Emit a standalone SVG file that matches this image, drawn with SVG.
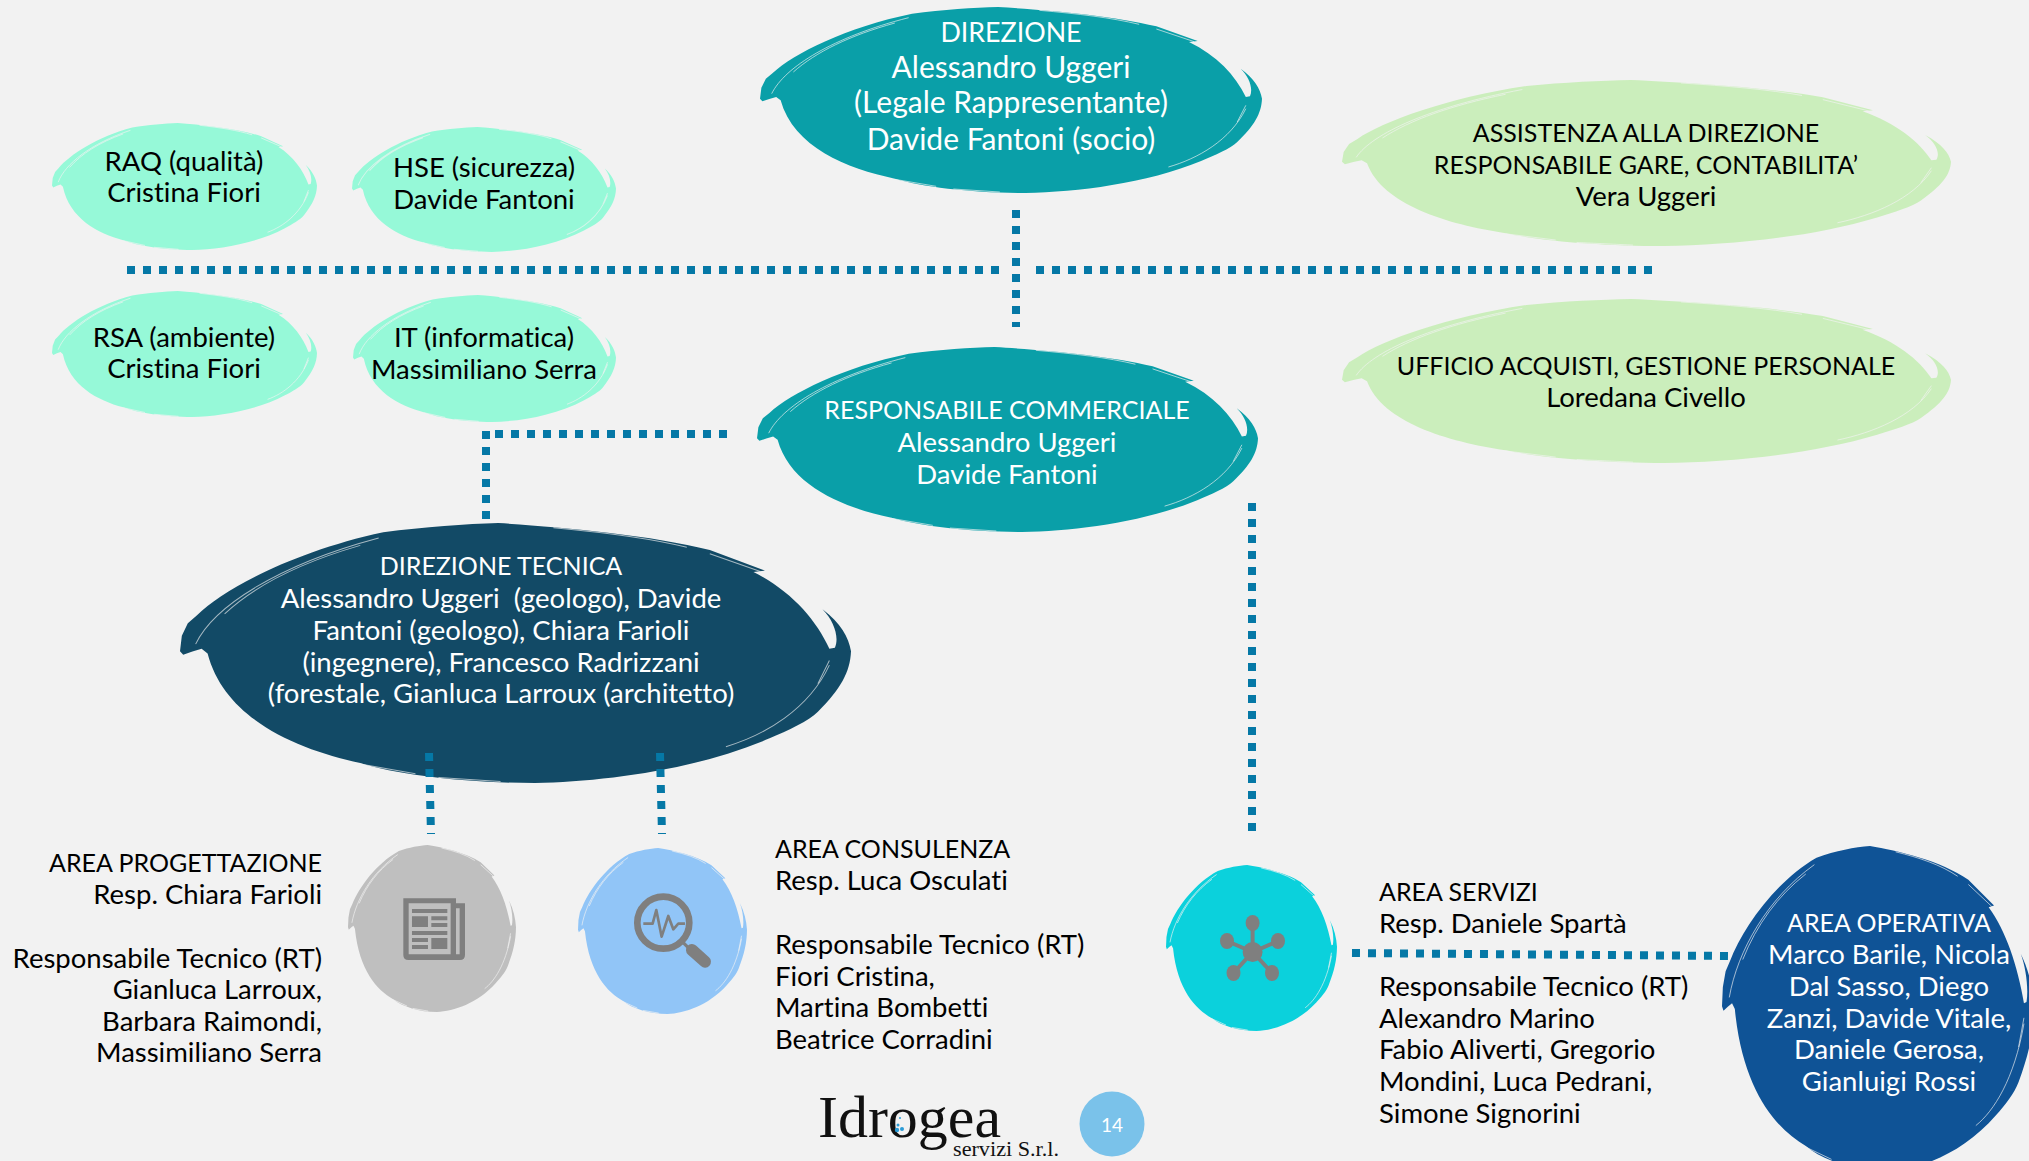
<svg xmlns="http://www.w3.org/2000/svg" width="2029" height="1161" viewBox="0 0 2029 1161">
<style>
text{font-family:"Lato","Carlito","Liberation Sans",sans-serif;font-size:27.5px;fill:#000;font-variant-ligatures:none}
.m{text-anchor:middle}.e{text-anchor:end}.w{fill:#fff}.big{font-size:30px}.c{font-size:25px}.cb{font-size:26.8px}
.dot{fill:none;stroke:#0578a6;stroke-width:8;stroke-dasharray:8 8}
.ic{fill:#7f7f7f}
text.logo{font-family:"Liberation Serif",serif;fill:#111}
</style>
<defs>
<symbol id="brush" viewBox="28 20 1459 558" preserveAspectRatio="none">
<path fill="currentColor" d="M28 295L32 262L45 235L65 218C125 160 280 80 470 40C560 28 650 22 720 20C850 28 1050 45 1180 78L1300 122L1275 125C1355 165 1410 225 1440 290L1452 288C1462 265 1450 230 1425 205C1465 235 1482 265 1487 295C1485 340 1465 375 1415 425C1395 445 1350 465 1310 482C1150 550 950 575 800 578C650 578 500 560 420 535C280 505 125 440 88 300L75 290L55 296L35 303Z"/>
<path fill="none" stroke="#f2f2f2" stroke-width="1" stroke-opacity=".65" vector-effect="non-scaling-stroke" d="M62 280C100 200 240 110 460 52M125 215C190 155 290 105 420 68M840 30C950 40 1050 52 1130 72M1215 500C1300 475 1395 420 1440 325M1180 86L1290 124M420 537L540 558M590 566L725 575M1415 365L1440 315"/>
</symbol>
</defs>
<rect width="2029" height="1161" fill="#f2f2f2"/>

<g id="direzione"><use href="#brush" x="760" y="7" width="502" height="186" color="#0a9fa8"/>
<text class="m w big"><tspan class="cb" x="1011" y="42">DIREZIONE</tspan><tspan x="1011" y="78">Alessandro Uggeri</tspan><tspan x="1011" y="113">(Legale Rappresentante)</tspan><tspan x="1011" y="150">Davide Fantoni (socio)</tspan></text></g>

<g id="raq"><use href="#brush" x="52" y="123" width="265" height="127" color="#96f9d8"/>
<text class="m"><tspan x="184" y="171">RAQ (qualità)</tspan><tspan x="184" y="202">Cristina Fiori</tspan></text></g>
<g id="hse"><use href="#brush" x="352" y="127" width="264" height="125" color="#96f9d8"/>
<text class="m"><tspan x="484" y="177">HSE (sicurezza)</tspan><tspan x="484" y="209">Davide Fantoni</tspan></text></g>
<g id="rsa"><use href="#brush" x="52" y="291" width="265" height="126" color="#96f9d8"/>
<text class="m"><tspan x="184" y="347">RSA (ambiente)</tspan><tspan x="184" y="378">Cristina Fiori</tspan></text></g>
<g id="it"><use href="#brush" x="353" y="295" width="263" height="127" color="#96f9d8"/>
<text class="m"><tspan x="484" y="347">IT (informatica)</tspan><tspan x="484" y="379">Massimiliano Serra</tspan></text></g>

<g id="assistenza"><use href="#brush" x="1342" y="80" width="609" height="166" color="#cbeebc"/>
<text class="m"><tspan class="c" x="1646" y="142">ASSISTENZA ALLA DIREZIONE</tspan><tspan class="c" x="1646" y="174">RESPONSABILE GARE, CONTABILITA’</tspan><tspan x="1646" y="206">Vera Uggeri</tspan></text></g>
<g id="ufficio"><use href="#brush" x="1342" y="299" width="609" height="164" color="#cbeebc"/>
<text class="m"><tspan class="c" x="1646" y="375">UFFICIO ACQUISTI, GESTIONE PERSONALE</tspan><tspan x="1646" y="407">Loredana Civello</tspan></text></g>

<g id="commerciale"><use href="#brush" x="757" y="347" width="501" height="185" color="#0a9fa8"/>
<text class="m w"><tspan class="c" x="1007" y="419">RESPONSABILE COMMERCIALE</tspan><tspan x="1007" y="452">Alessandro Uggeri</tspan><tspan x="1007" y="484">Davide Fantoni</tspan></text></g>

<g id="tecnica"><use href="#brush" x="180" y="523" width="671" height="260" color="#124a66"/>
<text class="m w"><tspan class="c" x="501" y="575">DIREZIONE TECNICA</tspan><tspan x="501" y="608">Alessandro Uggeri&#160; (geologo), Davide</tspan><tspan x="501" y="640">Fantoni (geologo), Chiara Farioli</tspan><tspan x="501" y="672">(ingegnere), Francesco Radrizzani</tspan><tspan x="501" y="703">(forestale, Gianluca Larroux (architetto)</tspan></text></g>

<g id="connectors">
<path class="dot" d="M127 270H999"/>
<path class="dot" d="M1036 270H1652"/>
<path class="dot" d="M1016 210V327"/>
<path class="dot" d="M495 434H727"/>
<path class="dot" d="M486 431V519"/>
<path class="dot" d="M429 753L431 834"/>
<path class="dot" d="M660 753L662 834"/>
<path class="dot" d="M1252 503V831"/>
<path class="dot" d="M1352 953L1730 956"/>
</g>

<g id="area-progettazione"><use href="#brush" x="348" y="845" width="168" height="167" color="#bfbfbf"/>
<g transform="translate(330 820) scale(.3333)">
<path class="ic" fill-rule="evenodd" d="M220 235H378V250H405V405Q405 420 390 420H235Q220 420 220 405ZM236 250V403H362V250ZM378 265V403H389V265Z"/>
<path class="ic" d="M246 267h106v12H246zM246 289h48v32h-48zM304 289h48v12h-48zM304 309h48v12h-48zM246 333h106v12H246zM246 354h48v12h-48zM246 375h48v12h-48zM304 354h48v33h-48z"/>
</g>
<text class="e"><tspan class="c" x="322" y="872">AREA PROGETTAZIONE</tspan><tspan x="322" y="904">Resp. Chiara Farioli</tspan><tspan x="322" y="968">Responsabile Tecnico (RT)</tspan><tspan x="322" y="999">Gianluca Larroux,</tspan><tspan x="322" y="1031">Barbara Raimondi,</tspan><tspan x="322" y="1062">Massimiliano Serra</tspan></text></g>

<g id="area-consulenza"><use href="#brush" x="578" y="848" width="169" height="166" color="#91c5f7"/>
<g transform="translate(330 820) scale(.3333)">
<circle cx="1000" cy="308" r="78" fill="none" stroke="#7f7f7f" stroke-width="20"/>
<path fill="none" stroke="#7f7f7f" stroke-width="10" d="M1056 364L1080 388"/>
<path fill="none" stroke="#7f7f7f" stroke-width="36" stroke-linecap="round" d="M1086 390L1125 425"/>
<path fill="none" stroke="#7f7f7f" stroke-width="8" stroke-linejoin="round" d="M940 311H968L979 270L995 350L1015 288L1030 328L1045 311H1065"/>
</g>
<text><tspan class="c" x="775" y="858">AREA CONSULENZA</tspan><tspan x="775" y="890">Resp. Luca Osculati</tspan><tspan x="775" y="954">Responsabile Tecnico (RT)</tspan><tspan x="775" y="986">Fiori Cristina,</tspan><tspan x="775" y="1017">Martina Bombetti</tspan><tspan x="775" y="1049">Beatrice Corradini</tspan></text></g>

<g id="area-servizi"><use href="#brush" x="1166" y="865" width="171" height="166" color="#0bd1dc"/>
<g class="ic"><path fill="none" stroke="#7f7f7f" stroke-width="4" d="M1252.600 923V952M1278 941L1252.600 952L1227 941M1233.500 973L1252.600 952L1272 973"/>
<circle cx="1252.600" cy="952" r="10"/><ellipse cx="1252.600" cy="923" rx="7" ry="8"/><ellipse cx="1278" cy="941" rx="7" ry="8"/><ellipse cx="1227" cy="941" rx="7" ry="8"/><ellipse cx="1233.500" cy="973" rx="7" ry="8"/><ellipse cx="1272" cy="973" rx="7" ry="8"/></g>
<text><tspan class="c" x="1379" y="901">AREA SERVIZI</tspan><tspan x="1379" y="933">Resp. Daniele Spartà</tspan><tspan x="1379" y="996">Responsabile Tecnico (RT)</tspan><tspan x="1379" y="1028">Alexandro Marino</tspan><tspan x="1379" y="1059">Fabio Aliverti, Gregorio</tspan><tspan x="1379" y="1091">Mondini, Luca Pedrani,</tspan><tspan x="1379" y="1123">Simone Signorini</tspan></text></g>

<g id="area-operativa"><use href="#brush" x="1722" y="846" width="312" height="325" color="#0f5396"/>
<text class="m w"><tspan class="c" x="1889" y="932">AREA OPERATIVA</tspan><tspan x="1889" y="964">Marco Barile, Nicola</tspan><tspan x="1889" y="996">Dal Sasso, Diego</tspan><tspan x="1889" y="1028">Zanzi, Davide Vitale,</tspan><tspan x="1889" y="1059">Daniele Gerosa,</tspan><tspan x="1889" y="1091">Gianluigi Rossi</tspan></text></g>

<g id="logo">
<text class="logo" x="818" y="1137" style="font-size:60px" textLength="183" lengthAdjust="spacingAndGlyphs">Idrogea</text>
<text class="logo" x="953" y="1156" style="font-size:21px" textLength="106" lengthAdjust="spacingAndGlyphs">servizi S.r.l.</text>
<g fill="#2a9bd6"><circle cx="897" cy="1130" r="2.200"/><circle cx="902" cy="1129" r="2"/><circle cx="898" cy="1125" r="1.500"/><circle cx="900" cy="1118" r="1"/></g>
</g>
<g id="page"><circle cx="1112" cy="1124" r="32.500" fill="#7ac2ea"/><text class="m w" x="1112" y="1132" style="font-size:19px">14</text></g>
</svg>
